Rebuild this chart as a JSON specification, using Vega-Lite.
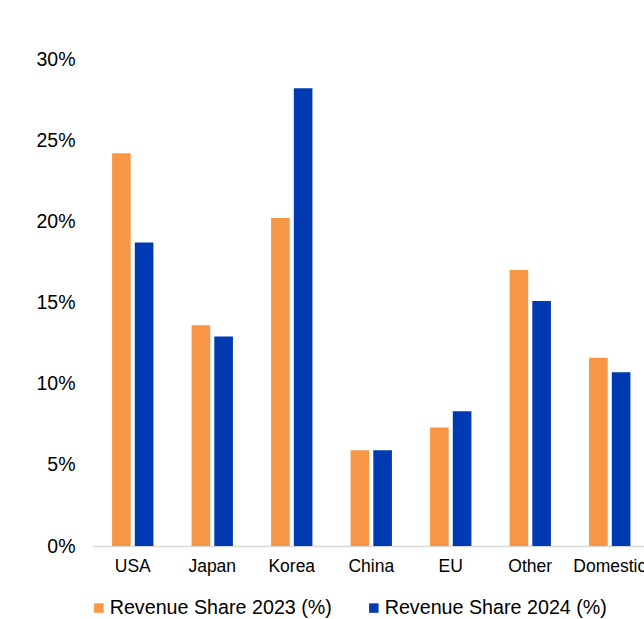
{
  "$schema": "https://vega.github.io/schema/vega-lite/v6.json",
  "autosize": {"type": "none"},
  "width": 551,
  "height": 487,
  "padding": {"left": 93, "top": 59, "right": 0, "bottom": 73},
  "background": "white",
  "config": {
    "view": {"stroke": null},
    "font": "Liberation Sans"
  },
  "data": {
    "values": [
      {"region": "USA", "series": "Revenue Share 2023 (%)", "share": 24.2},
      {"region": "USA", "series": "Revenue Share 2024 (%)", "share": 18.7},
      {"region": "Japan", "series": "Revenue Share 2023 (%)", "share": 13.6},
      {"region": "Japan", "series": "Revenue Share 2024 (%)", "share": 12.9},
      {"region": "Korea", "series": "Revenue Share 2023 (%)", "share": 20.2},
      {"region": "Korea", "series": "Revenue Share 2024 (%)", "share": 28.2},
      {"region": "China", "series": "Revenue Share 2023 (%)", "share": 5.9},
      {"region": "China", "series": "Revenue Share 2024 (%)", "share": 5.9},
      {"region": "EU", "series": "Revenue Share 2023 (%)", "share": 7.3},
      {"region": "EU", "series": "Revenue Share 2024 (%)", "share": 8.3},
      {"region": "Other", "series": "Revenue Share 2023 (%)", "share": 17.0},
      {"region": "Other", "series": "Revenue Share 2024 (%)", "share": 15.1},
      {"region": "Domestic", "series": "Revenue Share 2023 (%)", "share": 11.6},
      {"region": "Domestic", "series": "Revenue Share 2024 (%)", "share": 10.7}
    ]
  },
  "transform": [{"calculate": "datum.share / 100", "as": "frac"}],
  "mark": {"type": "bar"},
  "encoding": {
    "x": {
      "field": "region",
      "type": "nominal",
      "sort": ["USA", "Japan", "Korea", "China", "EU", "Other", "Domestic"],
      "scale": {"range": [0, 556.5], "paddingInner": 0.48, "paddingOuter": 0.24},
      "axis": {
        "title": null,
        "labelAngle": 0,
        "labelFontSize": 17.5,
        "labelColor": "#000000",
        "labelPadding": 11,
        "ticks": false,
        "domainColor": "#d9d9d9",
        "domainWidth": 1.5,
        "grid": false
      }
    },
    "xOffset": {
      "field": "series",
      "type": "nominal",
      "scale": {"paddingInner": 0.18}
    },
    "y": {
      "field": "frac",
      "type": "quantitative",
      "scale": {"domain": [0, 0.3], "nice": false},
      "axis": {
        "title": null,
        "format": ".0%",
        "values": [0, 0.05, 0.1, 0.15, 0.2, 0.25, 0.3],
        "labelFontSize": 19.5,
        "labelColor": "#000000",
        "labelPadding": 18,
        "ticks": false,
        "domain": false,
        "grid": false
      }
    },
    "color": {
      "field": "series",
      "type": "nominal",
      "scale": {
        "domain": ["Revenue Share 2023 (%)", "Revenue Share 2024 (%)"],
        "range": ["#F79646", "#003AB2"]
      },
      "legend": {
        "title": null,
        "orient": "none",
        "direction": "horizontal",
        "legendX": -4,
        "legendY": 539,
        "symbolType": "square",
        "symbolSize": 90,
        "symbolStrokeWidth": 0,
        "labelFontSize": 19.7,
        "labelColor": "#000000",
        "labelOffset": 1,
        "columnPadding": 32,
        "labelLimit": 400
      }
    }
  }
}
